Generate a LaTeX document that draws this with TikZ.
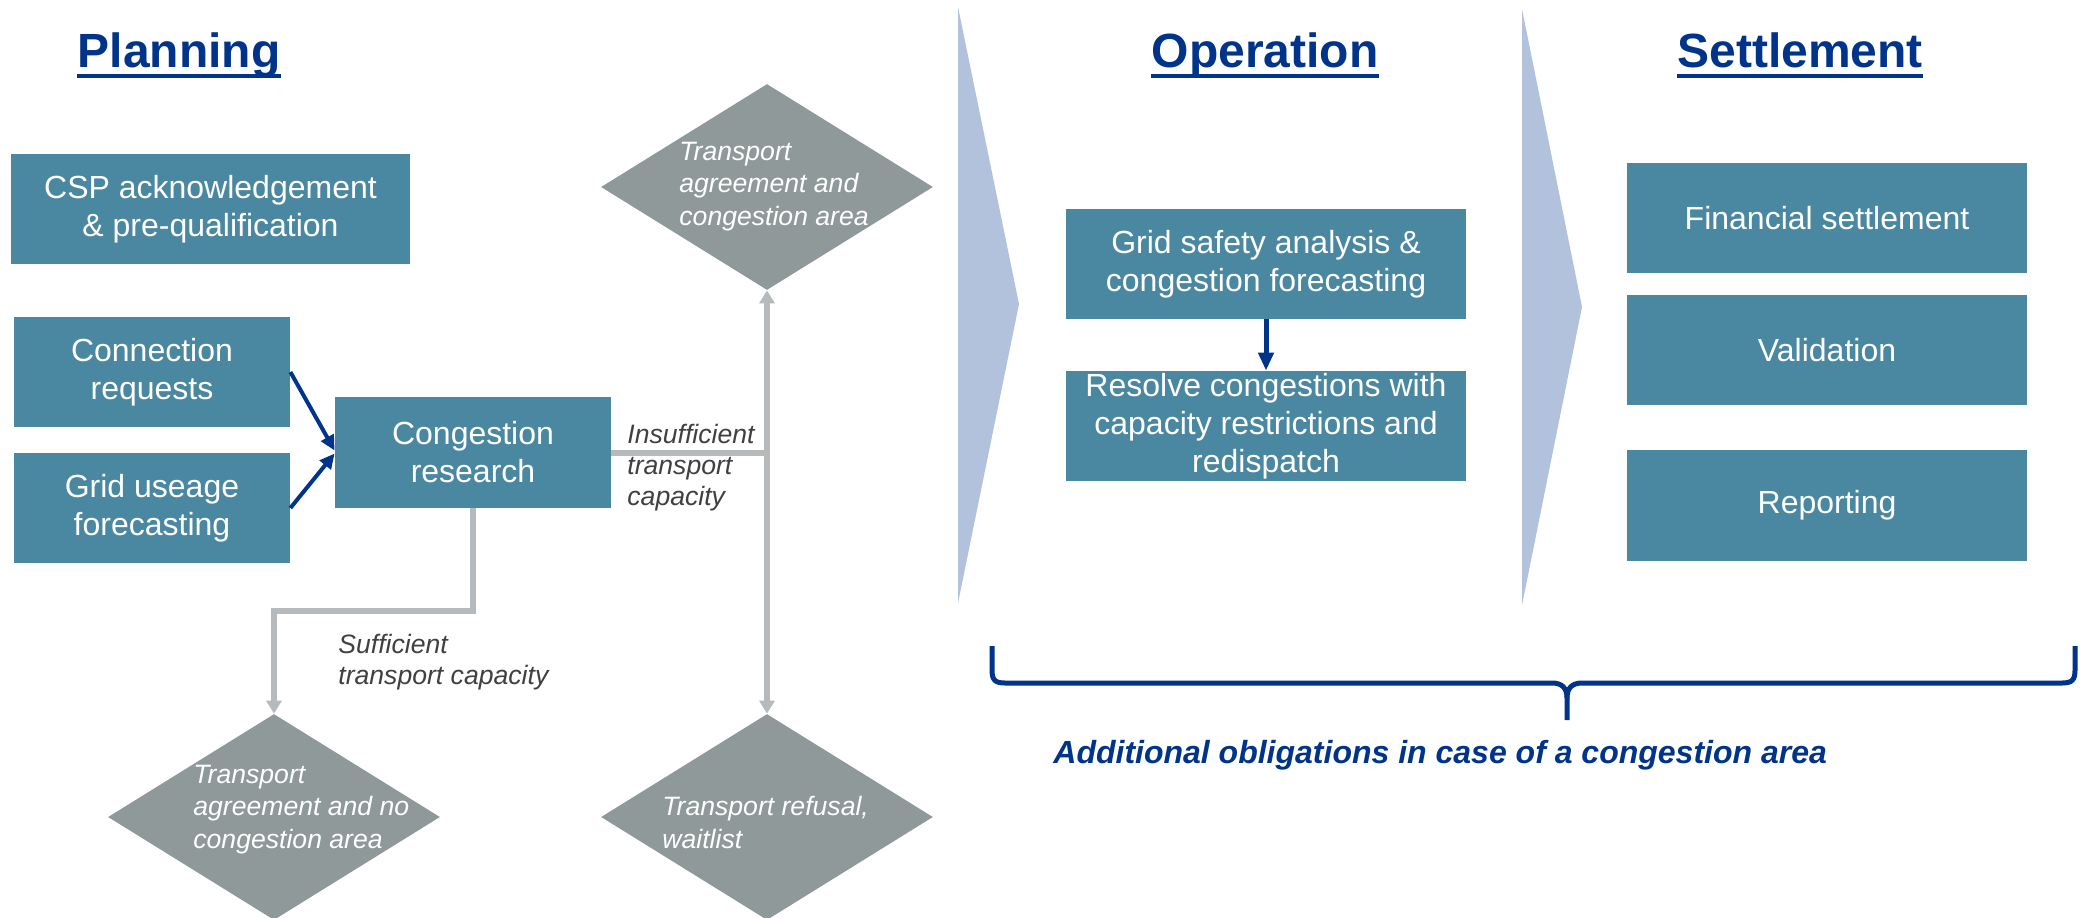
\documentclass[tikz,border=0pt]{standalone}
\usepackage{fontspec}
\setmainfont{Liberation Sans}
\usetikzlibrary{arrows.meta,shapes.geometric}
\definecolor{boxc}{HTML}{4A87A0}
\definecolor{diac}{HTML}{8F999A}
\definecolor{chev}{HTML}{B3C2DC}
\definecolor{navy}{HTML}{00348A}
\definecolor{grayl}{HTML}{B6BABD}
\definecolor{lblc}{HTML}{404040}
\begin{document}
\begin{tikzpicture}[x=0.5pt,y=-0.5pt,
  box/.style={fill=boxc,text=white,inner sep=0pt,align=center,font=\fontsize{16}{19}\selectfont},
  dia/.style={diamond,fill=diac,inner sep=0pt,minimum width=166pt,minimum height=103pt},
  diatext/.style={text=white,inner sep=0pt,align=left,anchor=base west,font=\fontsize{13.3}{16.2}\selectfont\itshape},
  lbl/.style={text=lblc,inner sep=0pt,align=left,anchor=base west,font=\fontsize{13.3}{15.5}\selectfont\itshape},
  titletext/.style={text=navy,inner sep=0pt,anchor=base,font=\fontsize{24}{29}\selectfont\bfseries},
  ul/.style={navy,line width=2.3pt},
  barrow/.style={navy,line width=2pt,-{Triangle[length=7.5pt,width=7pt]}},
  bdown/.style={navy,line width=2.5pt,-{Triangle[length=9pt,width=7.5pt]}},
  gline/.style={grayl,line width=3pt},
  gtip/.style={grayl,line width=3pt,-{Triangle[length=6.5pt,width=7.5pt]}},
  gboth/.style={grayl,line width=3pt,{Triangle[length=6.5pt,width=7.5pt]}-{Triangle[length=6.5pt,width=7.5pt]}}
]
\useasboundingbox[fill=white] (0,0) rectangle (2080,917);

% chevrons
\fill[chev] (958,7) -- (1019,304) -- (958,603) -- cycle;
\fill[chev] (1522,9) -- (1582,307) -- (1522,605) -- cycle;

% titles
\node[titletext] (tplan) at (179,67) {Planning};
\node[titletext] (top) at (1265,67) {Operation};
\node[titletext] (tset) at (1800,67) {Settlement};
\draw[ul] ([yshift=-4.5pt]tplan.base west) -- ([yshift=-4.5pt]tplan.base east);
\draw[ul] ([yshift=-4.5pt]top.base west) -- ([yshift=-4.5pt]top.base east);
\draw[ul] ([yshift=-4.5pt]tset.base west) -- ([yshift=-4.5pt]tset.base east);

% planning boxes
\node[box,minimum width=199.5pt,minimum height=55pt] (csp) at (210.5,209) {CSP acknowledgement\\\& pre-qualification};
\node[box,minimum width=138pt,minimum height=55pt] (conn) at (152,372) {Connection\\requests};
\node[box,minimum width=138pt,minimum height=55pt] (gu) at (152,508) {Grid useage\\forecasting};
\node[box,minimum width=138pt,minimum height=55.5pt] (cr) at (473,452.5) {Congestion\\research};

% diamonds
\node[dia] (d1) at (767,187) {};
\node[dia] (d2) at (274,817) {};
\node[dia] (d3) at (767,817) {};
\node[diatext] (d1t) at (679,225) {Transport\\agreement and\\congestion area};
\node[diatext] (d2t) at (193,848) {Transport\\agreement and no\\congestion area};
\node[diatext] (d3t) at (662,848) {Transport refusal,\\waitlist};

% operation boxes
\node[box,minimum width=200pt,minimum height=55pt] (gs) at (1266,264) {Grid safety analysis \&\\congestion forecasting};
\node[box,minimum width=200pt,minimum height=55pt] (rs) at (1266,426) {Resolve congestions with\\capacity restrictions and\\redispatch};

% settlement boxes
\node[box,minimum width=200pt,minimum height=55pt] (fs) at (1827,218) {Financial settlement};
\node[box,minimum width=200pt,minimum height=55pt] (va) at (1827,350) {Validation};
\node[box,minimum width=200pt,minimum height=55.5pt] (rp) at (1827,505.5) {Reporting};

% connectors
\draw[barrow] (conn.east) -- ([yshift=1pt]cr.west);
\draw[barrow] (gu.east) -- ([yshift=-0.5pt]cr.west);
\draw[bdown] (gs.south) -- (rs.north);
\draw[gboth] (d1.south) -- (d3.north);
\draw[gline] (cr.east) -- (cr.east -| d1.south);
\draw[gtip] (cr.south) -- ++(0,103) -| (d2.north);

% labels
\node[lbl] (lins) at (627,505) {Insufficient\\transport\\capacity};
\node[lbl] (lsuf) at (338,684) {Sufficient\\transport capacity};

% brace
\draw[navy,line width=2.5pt] (992,646) -- (992,670) .. controls (992,680) and (995,683) .. (1005,683) -- (1552,683) .. controls (1562,683) and (1567,688) .. (1567,698) -- (1567,720);
\draw[navy,line width=2.5pt] (1567,698) .. controls (1567,688) and (1572,683) .. (1582,683) -- (2062,683) .. controls (2072,683) and (2075,680) .. (2075,670) -- (2075,646);
\node[text=navy,inner sep=0pt,anchor=base west,font=\fontsize{16}{19}\selectfont\bfseries\itshape] (add) at (1053,763) {Additional obligations in case of a congestion area};
\end{tikzpicture}
\end{document}
